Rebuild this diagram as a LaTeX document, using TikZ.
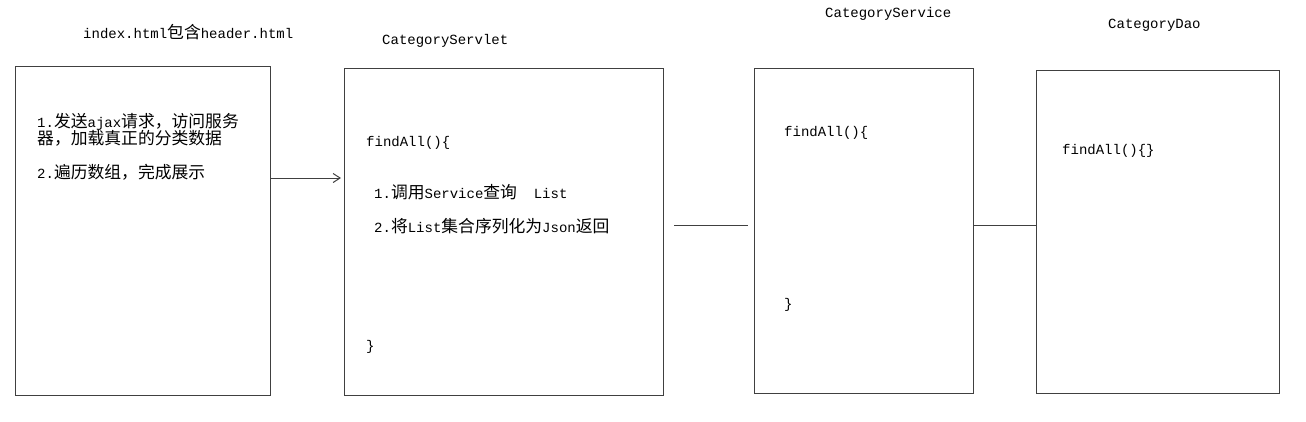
\documentclass[tikz,border=0pt]{standalone}
\usepackage{fontspec}
\setmainfont{Liberation Mono}
\newfontfamily\cjk[Scale=1.2]{Noto Sans CJK SC}
\usetikzlibrary{arrows.meta, positioning}

\tikzset{
  module/.style={draw=black!75, line width=1pt, anchor=north west, inner sep=0pt},
  code/.style={anchor=base west, inner sep=0pt, font=\fontsize{14}{17}\selectfont},
  link/.style={draw=black!75, line width=1pt},
}

\begin{document}
\begin{tikzpicture}[x=1pt, y=-1pt, >={Straight Barb[length=7pt, width=9pt]}]
    \useasboundingbox (0,0) rectangle (1306,421);

    % The four layers
    \node[module, minimum width=255pt, minimum height=329pt] (page) at (15,66) {};
    \node[module, minimum width=319pt, minimum height=327pt] (servlet) at (344,68) {};
    \node[module, minimum width=219pt, minimum height=325pt] (service) at (754,68) {};
    \node[module, minimum width=243pt, minimum height=323pt] (dao) at (1036,70) {};

    % Titles above the boxes
    \node[code] (pagetitle) at (83,38) {index.html{\cjk 包含}header.html};
    \node[code] (servlettitle) at (382,44) {CategoryServlet};
    \node[code] (servicetitle) at (825,17) {CategoryService};
    \node[code] (daotitle) at (1108,28) {CategoryDao};

    % Page text
    \node[code] (pagestep1) at (37,127) {1.{\cjk 发送}ajax{\cjk 请求，访问服务}};
    \node[code] (pagestep1b) at (37,144) {\cjk 器，加载真正的分类数据};
    \node[code] (pagestep2) at (37,178) {2.{\cjk 遍历数组，完成展示}};

    % Servlet text
    \node[code] (servletopen) at (366,146) {findAll()\{};
    \node[code] (servletstep1) at (374,198) {1.{\cjk 调用}Service{\cjk 查询}\ \ List};
    \node[code] (servletstep2) at (374,232) {2.{\cjk 将}List{\cjk 集合序列化为}Json{\cjk 返回}};
    \node[code] (servletclose) at (366,350) {\}};

    % Service text
    \node[code] (serviceopen) at (784,136) {findAll()\{};
    \node[code] (serviceclose) at (784,308) {\}};

    % Dao text
    \node[code] (daomethod) at (1062,154) {findAll()\{\}};

    % Connectors
    \coordinate (arrowtip) at (341,178);
    \draw[link, ->] (page.east |- arrowtip) -- (arrowtip);
    \coordinate (gapleft) at (674,225);
    \coordinate (gapright) at (748,225);
    \draw[link] (gapleft) -- (gapright);
    \draw[link] (service.east |- gapleft) -- (dao.west |- gapleft);
\end{tikzpicture}
\end{document}
